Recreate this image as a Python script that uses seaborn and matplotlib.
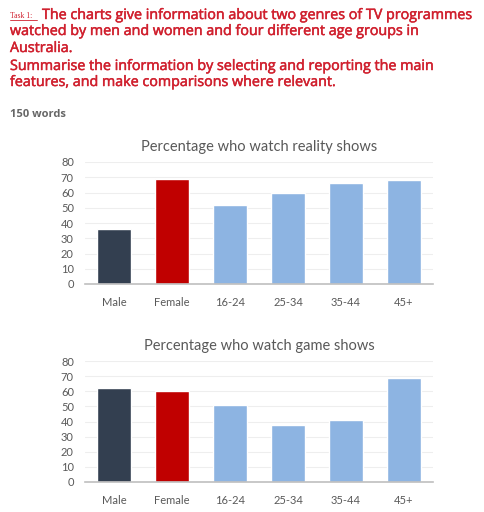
import matplotlib
matplotlib.use("Agg")
import matplotlib.pyplot as plt
import matplotlib.patheffects as pe
import seaborn as sns
import pandas as pd

groups = ["Male", "Female", "16-24", "25-34", "35-44", "45+"]
reality = [36, 69, 52, 60, 66, 68]
game = [62, 60, 51, 38, 41, 69]
bar_colors = ["#333f50", "#c00000", "#8db4e2", "#8db4e2", "#8db4e2", "#8db4e2"]

sns.set_theme(style="white")
plt.rcParams['font.family'] = ['Lato', 'DejaVu Sans']

fig = plt.figure(figsize=(4.84, 5.12), dpi=100)
red = "#d0202e"
head_font = ['Open Sans', 'DejaVu Sans']
thick = [pe.withStroke(linewidth=0.35, foreground=red)]

# task text
fig.text(10 / 484, 1 - 18 / 512, "Task 1:", color=red, fontsize=5.5, va="baseline",
         family=['Liberation Serif'])
fig.add_artist(plt.Line2D([10 / 484, 37 / 484], [1 - 20 / 512, 1 - 20 / 512], color=red, lw=0.6))
fig.text(42 / 484, 1 - 19 / 512, "The charts give information about two genres of TV programmes",
         color=red, fontsize=10.3, va="baseline", family=head_font, path_effects=thick)
lines = ["watched by men and women and four different age groups in",
         "Australia.",
         "Summarise the information by selecting and reporting the main",
         "features, and make comparisons where relevant."]
baselines = [35, 52, 70, 86]
for t, b in zip(lines, baselines):
    fig.text(10 / 484, 1 - b / 512, t, color=red, fontsize=10.3, va="baseline",
             family=head_font, path_effects=thick)
fig.text(10 / 484, 1 - 117 / 512, "150 words", color="#666666", fontsize=8,
         fontweight="bold", va="baseline", family=head_font)


def draw(ax, values, title):
    df = pd.DataFrame({"group": groups, "value": values})
    sns.barplot(data=df, x="group", y="value", hue="group", palette=bar_colors,
                legend=False, width=0.57, ax=ax, saturation=1)
    ax.set_ylim(0, 80)
    ax.set_xlim(-0.5, 5.5)
    ax.set_yticks(range(0, 81, 10))
    ax.yaxis.grid(True, color="#eeeeee", lw=0.8)
    ax.set_axisbelow(True)
    for s in ["top", "right", "left"]:
        ax.spines[s].set_visible(False)
    ax.spines["bottom"].set_color("#bfbfbf")
    ax.spines["bottom"].set_linewidth(1.2)
    ax.tick_params(axis="both", length=0, labelsize=8, labelcolor="#595959", pad=8)
    ax.tick_params(axis="x", pad=9)
    ax.set_xlabel("")
    ax.set_ylabel("")
    ax.set_title(title, fontsize=10.5, color="#595959", pad=8)


ax1 = fig.add_axes([85 / 484, 1 - 284 / 512, 348 / 484, 122 / 512])
draw(ax1, reality, "Percentage who watch reality shows")
ax2 = fig.add_axes([85 / 484, 1 - 482 / 512, 348 / 484, 121 / 512])
draw(ax2, game, "Percentage who watch game shows")

fig.savefig("out.png", dpi=100)
